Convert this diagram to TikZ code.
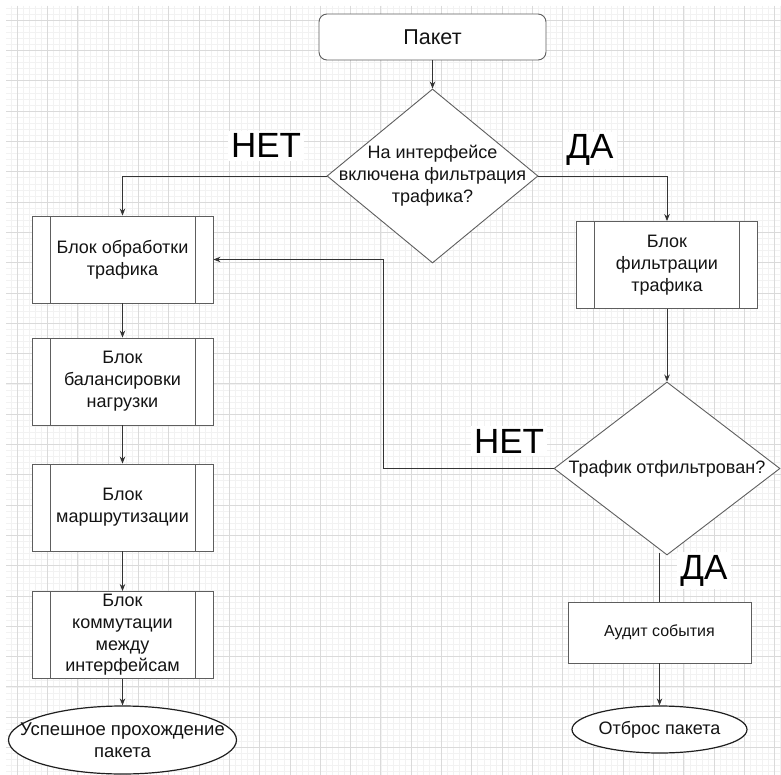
\documentclass[tikz,border=0pt]{standalone}
\usepackage{fontspec}
\setmainfont{Liberation Sans}
\usetikzlibrary{shapes.geometric,arrows.meta}
\definecolor{gmajor}{HTML}{DADADA}
\definecolor{gminor}{HTML}{F2F2F2}
\definecolor{edgec}{HTML}{5E5E5E}
\definecolor{arrc}{HTML}{333333}
\begin{document}
\begin{tikzpicture}[x=1pt,y=-1pt,
  txt/.style={font=\fontsize{18}{22}\selectfont, align=center, text=black!92},
  shapeline/.style={draw=edgec, line width=0.9pt, fill=white},
  pbox/.style={shapeline, minimum width=181pt, minimum height=87pt, inner sep=0pt, txt,
    path picture={\draw[edgec,line width=0.9pt]
      ([xshift=18pt]path picture bounding box.north west) -- ([xshift=18pt]path picture bounding box.south west)
      ([xshift=-18pt]path picture bounding box.north east) -- ([xshift=-18pt]path picture bounding box.south east);}},
  dia/.style={shapeline, diamond, inner sep=0pt},
  term/.style={ellipse, draw=black!88, line width=1.2pt, fill=white, inner sep=0pt},
  lbl/.style={font=\fontsize{35}{40}\selectfont, fill=white, inner sep=3pt, anchor=base, text=black},
  arr/.style={draw=arrc, line width=0.8pt, -{Stealth[length=7pt,width=5.5pt]}},
  plainline/.style={draw=arrc, line width=0.8pt}
]
\useasboundingbox (0,0) rectangle (781,775);
\fill[white] (0,0) rectangle (781,775);
% grid
\begin{scope}
\clip (6,6) rectangle (781,775);
\foreach \x in {11.24,17.3,...,781} \draw[gminor, line width=0.8pt] (\x,6) -- (\x,775);
\foreach \y in {8.18,14.24,...,775} \draw[gminor, line width=0.8pt] (6,\y) -- (781,\y);
\foreach \x in {17.3,47.6,...,781} \draw[gmajor, line width=0.9pt] (\x,6) -- (\x,775);
\foreach \y in {20.3,50.6,...,775} \draw[gmajor, line width=0.9pt] (6,\y) -- (781,\y);
\end{scope}

% nodes
\node[shapeline, rounded corners=8pt, minimum width=227pt, minimum height=46pt, inner sep=0pt,
      font=\fontsize{21.5}{25}\selectfont, text=black!92] (pak) at (432.5,37) {Пакет};
\node[dia, minimum width=211pt, minimum height=174pt] (d1) at (432.5,176) {};
\node[txt] (d1t) at (d1.center) {На интерфейсе\\включена фильтрация\\трафика?};

\node[pbox] (b1) at (122.5,259.5) {Блок обработки\\трафика};
\node[pbox] (b2) at (122.5,381.5) {Блок\\балансировки\\нагрузки};
\node[pbox] (b3) at (122.5,507.5) {Блок\\маршрутизации};
\node[pbox, font=\fontsize{18}{21.7}\selectfont] (b4) at (122.5,635) {Блок\\коммутации\\между\\интерфейсам};
\node[term, minimum width=228pt, minimum height=68pt] (e1) at (122.5,740) {};
\node[txt, font=\fontsize{18.5}{22}\selectfont] (e1t) at (e1.center) {Успешное прохождение\\пакета};

\node[pbox] (filt) at (667,265) {Блок\\фильтрации\\трафика};
\node[dia, minimum width=226pt, minimum height=173pt] (d2) at (667,468.5) {};
\node[txt] (d2t) at (d2.center) {Трафик отфильтрован?};
\node[shapeline, minimum width=183pt, minimum height=61pt, inner sep=0pt,
      font=\fontsize{16}{20}\selectfont, text=black!92] (aud) at (659.5,632.5) {Аудит события};
\node[term, minimum width=175pt, minimum height=47pt, txt] (e2) at (659.5,729.5) {Отброс пакета};

% connectors
\draw[arr] (pak.south) -- (d1.north);
\draw[arr] (d1.west) -| (b1.north);
\draw[arr] (d1.east) -| (filt.north);
\draw[arr] (b1.south) -- (b2.north);
\draw[arr] (b2.south) -- (b3.north);
\draw[arr] (b3.south) -- (b4.north);
\draw[arr] (b4.south) -- (e1.north);
\draw[arr] (filt.south) -- (d2.north);
\coordinate (lp) at (383,259.5);
\draw[arr] (d2.west) -| (lp) -- (b1.east);
\draw[plainline] ([yshift=2pt]d2.south -| aud.north) -- (aud.north);
\draw[arr] (aud.south) -- (e2.north);

% labels
\node[lbl] (no1) at (266,158) {НЕТ};
\node[lbl] (yes1) at (590,159) {ДА};
\node[lbl] (no2) at (509,453) {НЕТ};
\node[lbl] (yes2) at (704,579) {ДА};
\end{tikzpicture}
\end{document}
